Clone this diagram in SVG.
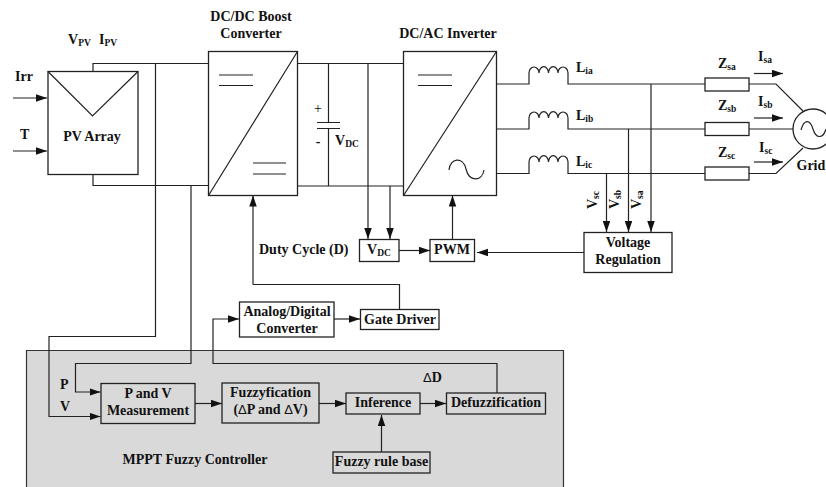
<svg xmlns="http://www.w3.org/2000/svg" width="826" height="487" viewBox="0 0 826 487">
<style>
text{font-family:"Liberation Serif","Times New Roman",serif;font-weight:bold;font-size:14px;fill:#111}
.m{text-anchor:middle}
.s{font-size:9.5px}
.n{font-family:"Liberation Sans",sans-serif;font-weight:normal;font-size:13px}
.b{fill:#fff;stroke:#222;stroke-width:1.3}
.g{fill:#d9d9d9;stroke:#222;stroke-width:1.3}
.w{fill:none;stroke:#222;stroke-width:1.2}
.a{fill:none;stroke:#222;stroke-width:1.2;marker-end:url(#ah)}
</style>
<defs>
<marker id="ah" markerUnits="userSpaceOnUse" markerWidth="12" markerHeight="10" refX="11" refY="3.75" orient="auto"><path d="M0 0L11 3.750L0 7.500Z" fill="#111"/></marker>
</defs>
<g id="controller-bg"><path d="M26.500 487V350.500H563.500V487" fill="#d9d9d9" stroke="#333" stroke-width="1.200"/></g>
<g id="connectors">
<path class="w" d="M93 71V63.500H208M93 174V185.500H208"/>
<path class="a" d="M155.500 63.500V336.500H49V416.500H100.500"/>
<path class="a" d="M191 185.500V363.500H75.500V392H100.500"/>
<path class="a" d="M13 98H47"/>
<path class="a" d="M13 151H47"/>
<path class="w" d="M297 63.500H403M297 186H403"/>
<path class="w" d="M328.500 63.500V122.500M328.500 128.500V186"/>
<path class="a" d="M368 63.500V239"/>
<path class="a" d="M390 186V239"/>
<path class="a" d="M399 250.500H430"/>
<path class="a" d="M452.500 239V195.500"/>
<path class="a" d="M584 252.500H477"/>
<path class="w" d="M497 84H529V73M568 73V84H705M497 129H529V118M568 118V129H705M497 173.500H529V162M568 162V173.500H705"/>
<path class="w" d="M529 73A5 6 0 0 1 539 73A4.500 6 0 0 1 548.500 73A4.500 6 0 0 1 558 73A5 6 0 0 1 568 73"/>
<path class="w" d="M529 118A5 6 0 0 1 539 118A4.500 6 0 0 1 548.500 118A4.500 6 0 0 1 558 118A5 6 0 0 1 568 118"/>
<path class="w" d="M529 162A5 6 0 0 1 539 162A4.500 6 0 0 1 548.500 162A4.500 6 0 0 1 558 162A5 6 0 0 1 568 162"/>
<path class="a" d="M651 84V232"/>
<path class="a" d="M628.500 129V232"/>
<path class="a" d="M606.500 173.500V232"/>
<path class="w" d="M749 84H776L803 111M749 129H794M749 173.500H776L803 148"/>
<path class="a" d="M754 73.500H783"/>
<path class="a" d="M754 118H783"/>
<path class="a" d="M754 162H783"/>
<path class="a" d="M253 284.500V195.500"/>
<path class="w" d="M253 284.500H399.500V309"/>
<path class="a" d="M334 319H360"/>
<path class="a" d="M497 393V363.500H213V319H239"/>
<path class="a" d="M195 403.500H222"/>
<path class="a" d="M319 403.500H346"/>
<path class="a" d="M420 403.500H446"/>
<path class="a" d="M381.500 452V415"/>
</g>
<g id="pv-array"><rect class="b" x="48" y="71.500" width="90" height="103"/><path class="w" d="M48 71.500L92.500 116L138 71.500"/><text class="m" x="92" y="141">PV Array</text></g>
<g id="boost"><rect class="b" x="208.500" y="51.500" width="89" height="144"/><path class="w" d="M208.500 195.500L297.500 51.500M219 75H253M219 85.500H253M253 163H286M253 174H286"/><text class="m" x="251" y="21">DC/DC Boost</text><text class="m" x="251" y="38">Converter</text></g>
<g id="inverter"><rect class="b" x="403.500" y="51.500" width="93" height="144"/><path class="w" d="M403.500 195.500L496.500 51.500M418 75H452M418 85.500H452M449 170C450 158 463 156 466 169C469 182 482 182 484 170"/><text class="m" x="448" y="38">DC/AC Inverter</text></g>
<g id="capacitor"><path class="w" d="M317 122.500H340M317 128.500H340"/><text class="m" x="318" y="113" style="font-weight:normal">+</text><text class="m" x="318" y="146">-</text><text x="335" y="145">V<tspan class="s" dy="2">DC</tspan></text></g>
<g id="vdc"><rect class="b" x="359.500" y="239.500" width="39.500" height="22"/><text class="m" x="379" y="254">V<tspan class="s" dy="2">DC</tspan></text></g>
<g id="pwm"><rect class="b" x="430" y="239.500" width="44.500" height="22"/><text class="m" x="452" y="254">PWM</text></g>
<g id="z-sa"><rect class="b" x="705" y="78" width="44" height="13"/><text x="718" y="68">Z<tspan class="s" dy="2">sa</tspan></text></g>
<g id="z-sb"><rect class="b" x="705" y="122.500" width="44" height="13"/><text x="718" y="110">Z<tspan class="s" dy="2">sb</tspan></text></g>
<g id="z-sc"><rect class="b" x="705" y="167" width="44" height="13"/><text x="718" y="157">Z<tspan class="s" dy="2">sc</tspan></text></g>
<g id="grid"><circle cx="813" cy="129" r="20" fill="#fff" stroke="#222" stroke-width="1.300"/><path class="w" d="M801 130C804 119 810 119 813 129C816 139 823 139 826 129"/><text x="796.500" y="170">Grid</text></g>
<g id="voltage-reg"><rect class="b" x="584" y="232.500" width="88" height="40"/><text class="m" x="628" y="247">Voltage</text><text class="m" x="628" y="264">Regulation</text></g>
<g id="adc"><rect class="b" x="239.500" y="302" width="94.500" height="35"/><text class="m" x="287" y="316">Analog/Digital</text><text class="m" x="287" y="333">Converter</text></g>
<g id="gate"><rect class="b" x="360.500" y="309.500" width="78.500" height="20"/><text class="m" x="400" y="324">Gate Driver</text></g>
<g id="pv-meas"><rect class="g" x="101" y="383.500" width="94" height="40"/><text class="m" x="148" y="398">P and V</text><text class="m" x="148" y="415">Measurement</text></g>
<g id="fuzzy"><rect class="g" x="222" y="383" width="97" height="40"/><text class="m" x="270.500" y="397">Fuzzyfication</text><text class="m" x="270.500" y="414">(<tspan class="n">Δ</tspan>P and <tspan class="n">Δ</tspan>V)</text></g>
<g id="inference"><rect class="g" x="346" y="393" width="74" height="21"/><text class="m" x="383" y="407">Inference</text></g>
<g id="defuzz"><rect class="g" x="446.500" y="393" width="99" height="21"/><text class="m" x="496" y="407">Defuzzification</text></g>
<g id="rulebase"><rect class="g" x="333" y="452" width="97" height="21"/><text class="m" x="381.500" y="466">Fuzzy rule base</text></g>
<g id="labels">
<text x="68" y="44">V<tspan class="s" dy="2">PV</tspan></text><text x="99" y="44">I<tspan class="s" dy="2">PV</tspan></text>
<text x="15" y="81">Irr</text><text x="20" y="139">T</text>
<text x="259" y="254">Duty Cycle (D)</text>
<text x="60" y="389">P</text><text x="60" y="411">V</text>
<text class="m" x="195" y="464">MPPT Fuzzy Controller</text>
<text x="423" y="382"><tspan class="n">Δ</tspan>D</text>
<text x="576" y="72">L<tspan class="s" dy="2">ia</tspan></text><text x="576" y="120">L<tspan class="s" dy="2">ib</tspan></text><text x="576" y="166">L<tspan class="s" dy="2">ic</tspan></text>
<text x="758" y="61">I<tspan class="s" dy="2">sa</tspan></text><text x="758" y="106">I<tspan class="s" dy="2">sb</tspan></text><text x="759" y="152">I<tspan class="s" dy="2">sc</tspan></text>
<text transform="translate(597 209) rotate(-90)">V<tspan class="s" dy="2">sc</tspan></text>
<text transform="translate(619 209) rotate(-90)">V<tspan class="s" dy="2">sb</tspan></text>
<text transform="translate(641 209) rotate(-90)">V<tspan class="s" dy="2">sa</tspan></text>
</g>
</svg>
